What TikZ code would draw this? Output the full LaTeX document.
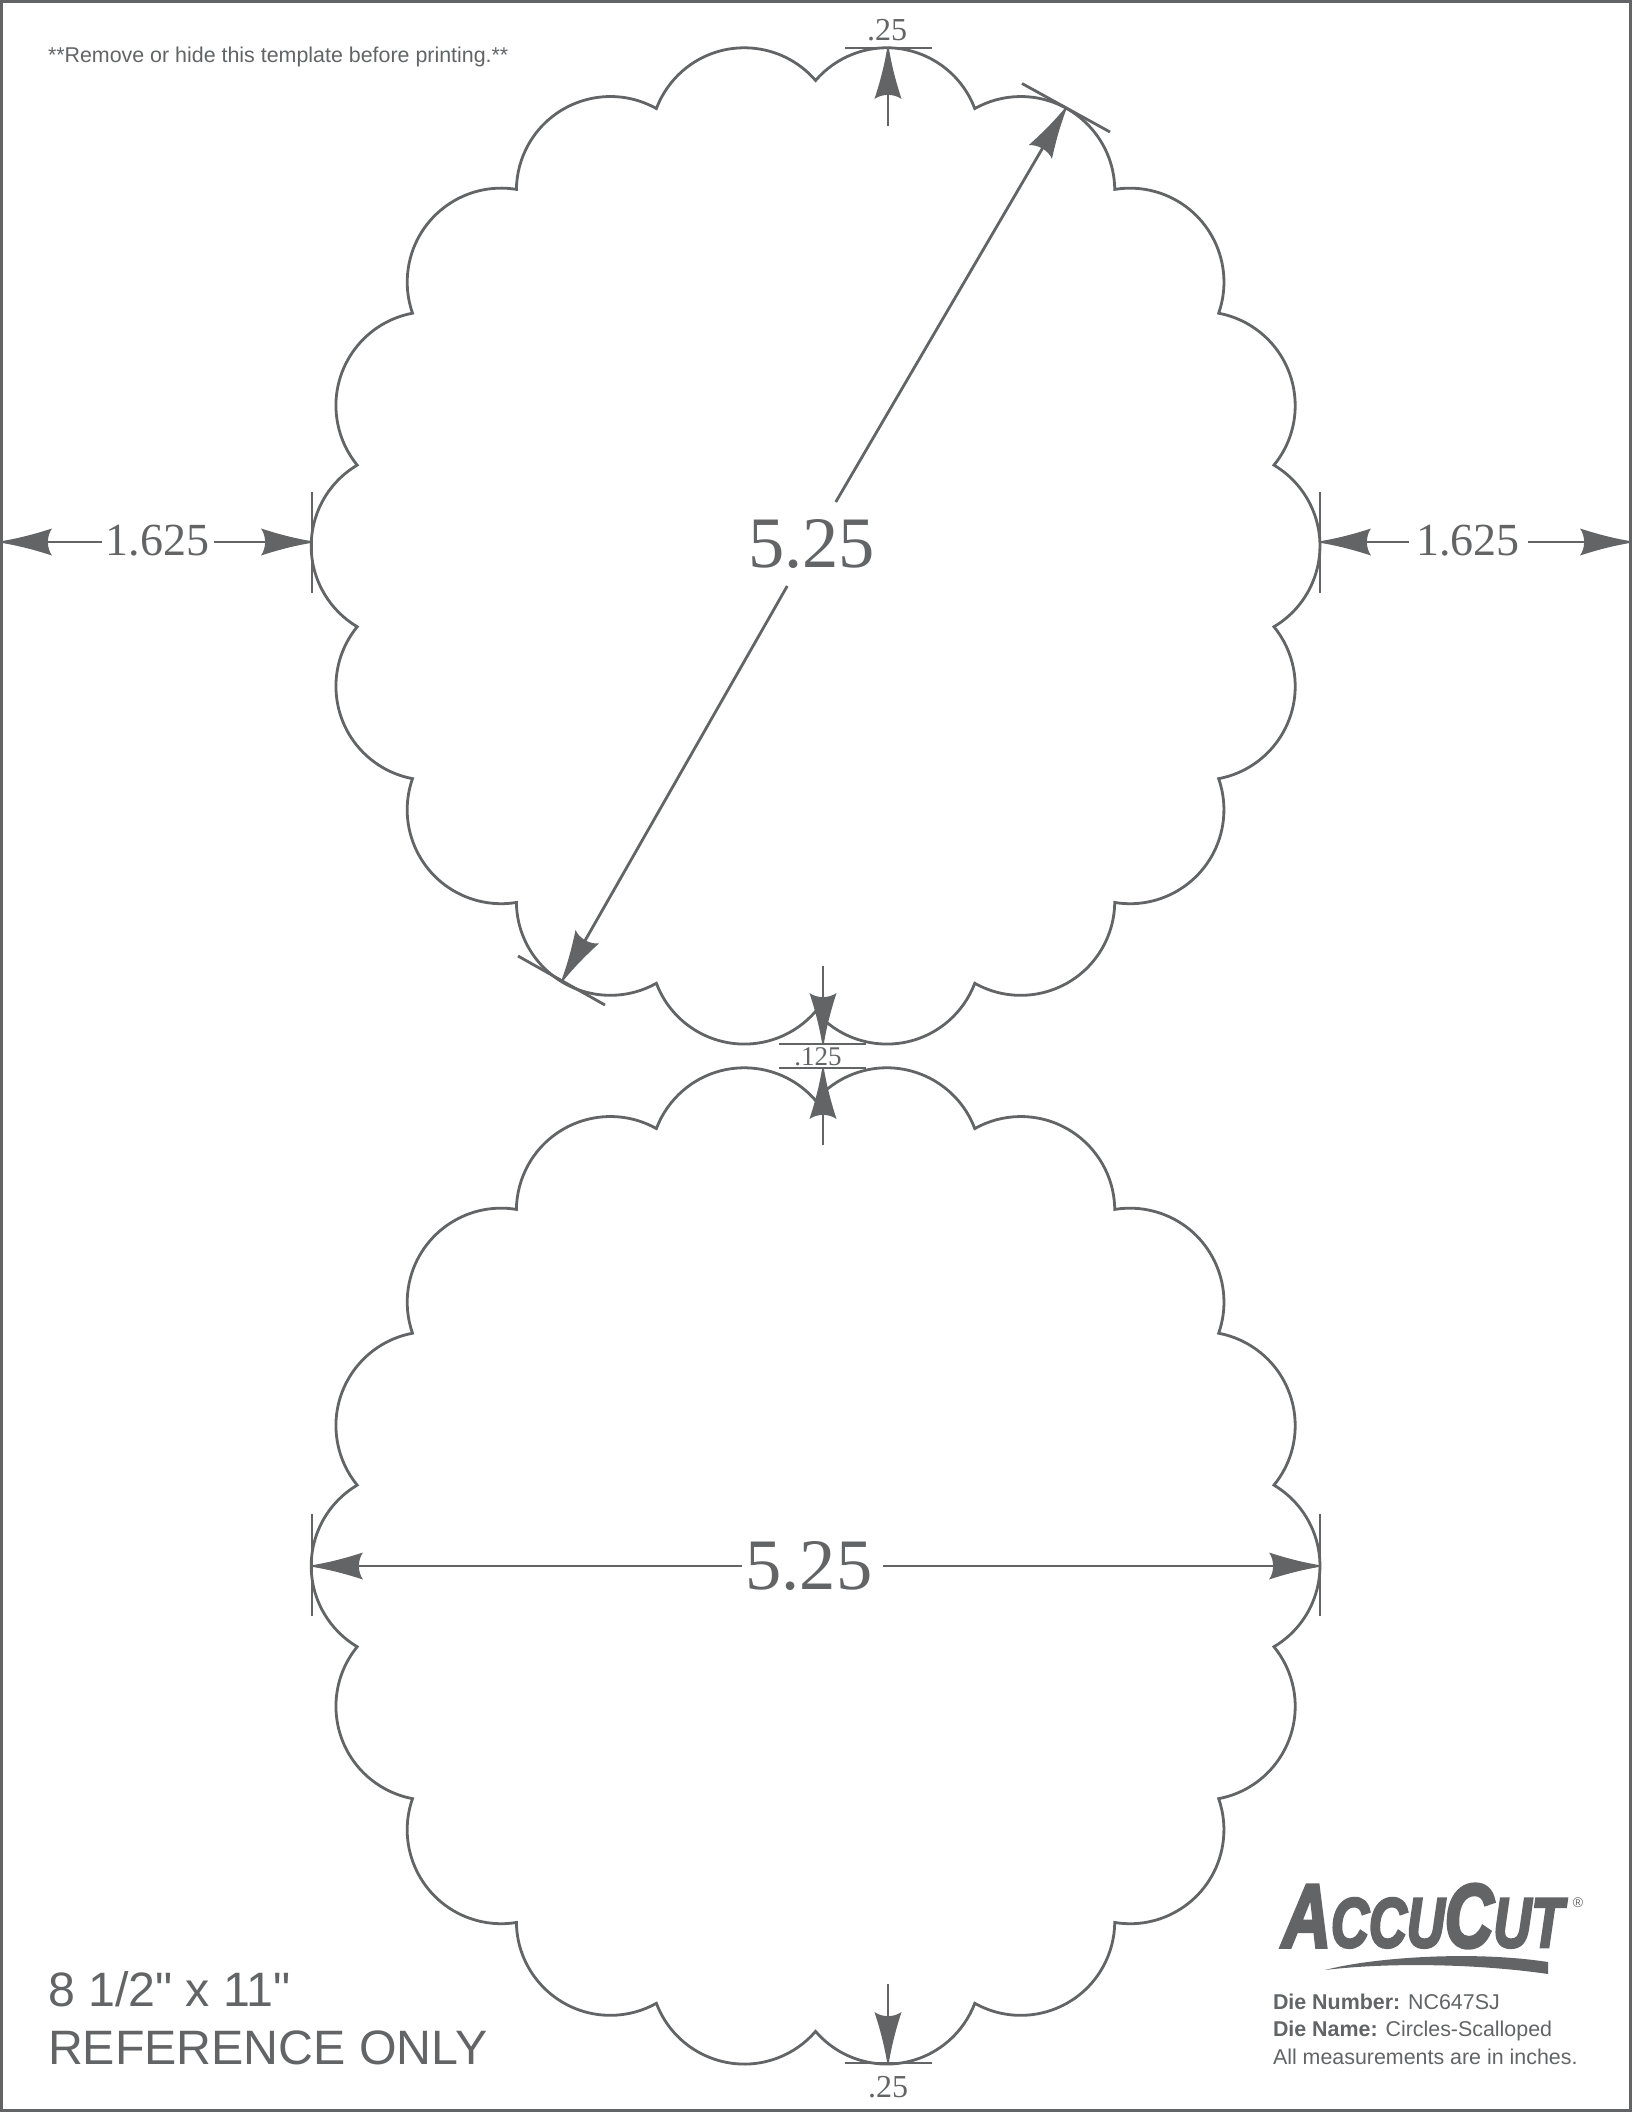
\documentclass[tikz,border=0pt]{standalone}
\usepackage{fontspec}
\setmainfont{Liberation Sans}
\newfontfamily\plainsans{Liberation Sans}
\newfontfamily\dimfont{Liberation Serif}
\newfontfamily\logofont[FakeBold=4]{Liberation Sans}
\usetikzlibrary{arrows.meta}
\definecolor{diegray}{HTML}{636466}
\pgfdeclarearrow{
  name=DieTip,
  setup code={%
    \pgfarrowssettipend{0pt}%
    \pgfarrowssetbackend{-51pt}%
    \pgfarrowssetlineend{-40pt}%
    \pgfarrowssetvisualbackend{-47pt}%
    \pgfarrowshullpoint{0pt}{0pt}%
    \pgfarrowshullpoint{-51pt}{13.5pt}%
    \pgfarrowshullpoint{-51pt}{-13.5pt}%
  },
  drawing code={%
    \pgfpathmoveto{\pgfpoint{0pt}{0.8pt}}%
    \pgfpathcurveto{\pgfpoint{-17pt}{3.5pt}}{\pgfpoint{-34pt}{8pt}}{\pgfpoint{-51pt}{13.5pt}}%
    \pgfpathcurveto{\pgfpoint{-45.5pt}{6pt}}{\pgfpoint{-45.5pt}{-6pt}}{\pgfpoint{-51pt}{-13.5pt}}%
    \pgfpathcurveto{\pgfpoint{-34pt}{-8pt}}{\pgfpoint{-17pt}{-3.5pt}}{\pgfpoint{0pt}{-0.8pt}}%
    \pgfpathclose
    \pgfusepathqfill
  },
}
\tikzset{
  dieline/.style={draw=diegray,line width=2.8pt,line join=miter},
  tickline/.style={draw=diegray,line width=2.8pt},
  dimline/.style={draw=diegray,line width=2.8pt,-{DieTip}},
  dimlabel/.style={text=diegray,inner sep=0pt,outer sep=0pt,font=\dimfont\fontsize{#1}{#1}\selectfont},
  sanslabel/.style={text=diegray,inner sep=0pt,outer sep=0pt,anchor=base west,font=\plainsans\fontsize{#1}{#1}\selectfont},
}
\newcommand{\scallop}[2]{%
  \begin{scope}[shift={(#1,#2)}]
    \draw[dieline] (-10:465pt)
      \foreach \k in {0,...,17}{ arc[start angle=\k*20-59.3,end angle=\k*20+59.3,radius=94pt] } -- cycle;
  \end{scope}}
\begin{document}
\begin{tikzpicture}[x=1pt,y=-1pt]
\useasboundingbox (0,0) rectangle (1632,2112);
\fill[white] (0,0) rectangle (1632,2112);
\draw[draw=diegray,line width=3pt] (1.5,1.5) rectangle (1630.5,2110.5);

\scallop{816}{546}
\scallop{816}{1566}

% outer 1.625 dimensions
\coordinate (pageL) at (1,542);
\coordinate (dieL) at (312,542);
\coordinate (dieR) at (1320,542);
\coordinate (pageR) at (1631,542);
\node[dimlabel=46,minimum width=112pt] (marginL) at (157.5,541) {1.625};
\node[dimlabel=46,minimum width=119pt] (marginR) at (1468,541) {1.625};
\draw[dimline] (marginL.west |- pageL) -- (pageL);
\draw[dimline] (marginL.east |- dieL) -- (dieL);
\draw[dimline] (marginR.west |- dieR) -- (dieR);
\draw[dimline] (marginR.east |- pageR) -- (pageR);
\coordinate (tLa) at (312,492); \coordinate (tLb) at (312,593);
\coordinate (tRa) at (1320,492); \coordinate (tRb) at (1320,593);
\draw[tickline] (tLa) -- (tLb);
\draw[tickline] (tRa) -- (tRb);

% top .25
\node[dimlabel=32] (quarterT) at (887,30) {.25};
\coordinate (qTtip) at (888,48);
\coordinate (qTtail) at (888,126);
\coordinate (qTa) at (845,48); \coordinate (qTb) at (932,48);
\draw[tickline] (qTa) -- (qTb);
\draw[dimline] (qTtail) -- (qTtip);

% diagonal 5.25
\node[dimlabel=72.5,minimum height=84pt,minimum width=88pt] (diam) at (811.5,544) {5.25};
\coordinate (dUp) at (1066,108);
\coordinate (dDn) at (562,981);
\draw[dimline] (diam.60) -- (dUp);
\draw[dimline] (diam.-120) -- (dDn);
\coordinate (dUa) at (1022,83.5); \coordinate (dUb) at (1110,132);
\coordinate (dDa) at (518,956); \coordinate (dDb) at (605,1005);
\draw[tickline] (dUa) -- (dUb);
\draw[tickline] (dDa) -- (dDb);

% .125 gap
\node[dimlabel=27] (gap) at (818,1057) {.125};
\coordinate (gTtip) at (823,1044); \coordinate (gTtail) at (823,966);
\coordinate (gBtip) at (823,1068); \coordinate (gBtail) at (823,1145);
\coordinate (gTa) at (779,1044); \coordinate (gTb) at (866,1044);
\coordinate (gBa) at (779,1068); \coordinate (gBb) at (866,1068);
\draw[tickline] (gTa) -- (gTb);
\draw[tickline] (gBa) -- (gBb);
\draw[dimline] (gTtail) -- (gTtip);
\draw[dimline] (gBtail) -- (gBtip);

% horizontal 5.25 on lower die
\node[dimlabel=72.5,minimum width=134pt] (width) at (809,1566) {5.25};
\coordinate (wL) at (312,1566); \coordinate (wR) at (1320,1566);
\draw[dimline] (width.west) -- (wL);
\draw[dimline] ([xshift=7pt]width.east) -- (wR);
\coordinate (wLa) at (312,1514); \coordinate (wLb) at (312,1616);
\coordinate (wRa) at (1320,1514); \coordinate (wRb) at (1320,1616);
\draw[tickline] (wLa) -- (wLb);
\draw[tickline] (wRa) -- (wRb);

% bottom .25
\node[dimlabel=32] (quarterB) at (888,2087) {.25};
\coordinate (qBtip) at (888,2063); \coordinate (qBtail) at (888,1984);
\coordinate (qBa) at (845,2063); \coordinate (qBb) at (932,2063);
\draw[tickline] (qBa) -- (qBb);
\draw[dimline] (qBtail) -- (qBtip);

% texts
\node[sanslabel=21.4] (remove) at (48,62) {**Remove or hide this template before printing.**};
\node[sanslabel=48.3] (size) at (48,2006) {8 1/2" x 11"};
\node[sanslabel=48.3] (refonly) at (48,2064) {REFERENCE ONLY};
\node[sanslabel=21.4] (dienum) at (1273,2009) {\textbf{Die Number:} NC647SJ};
\node[sanslabel=21.4] (diename) at (1273,2036) {\textbf{Die Name:} Circles-Scalloped};
\node[sanslabel=21.4] (allmeas) at (1273,2064) {All measurements are in inches.};

% logo
\node[text=diegray,inner sep=0pt,anchor=base west] (logo) at (1282,1947)
  {\scalebox{0.75}[1]{\logofont\itshape\bfseries\fontsize{90}{90}\selectfont A\fontsize{70}{70}\selectfont CCU\fontsize{90}{90}\selectfont C\fontsize{70}{70}\selectfont UT}};
\node[text=diegray,inner sep=0pt,font=\plainsans\fontsize{14}{14}\selectfont] (regmark) at (1578,1903) {®};
\fill[diegray] (1325,1970) .. controls (1370,1958) and (1470,1950) .. (1548,1962) -- (1548,1974) .. controls (1480,1964) and (1390,1962) .. (1325,1970) -- cycle;
\end{tikzpicture}
\end{document}
